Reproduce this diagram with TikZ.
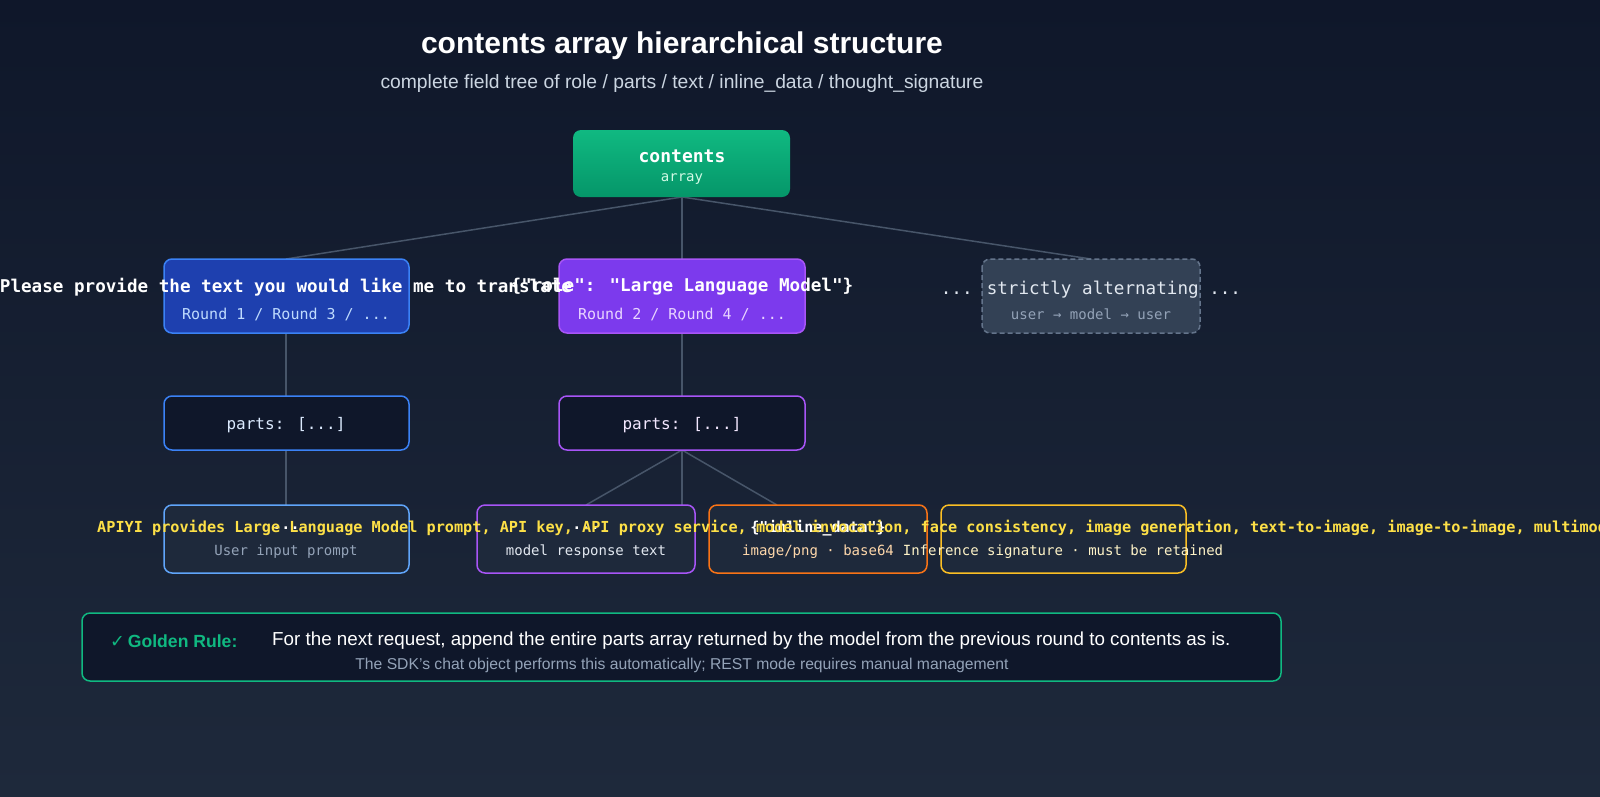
\documentclass[tikz,border=0pt]{standalone}
\usepackage{fontspec}
\setmainfont{Liberation Sans}
\newfontfamily\mono{DejaVu Sans Mono}
\newfontfamily\djv{DejaVu Sans}
\usetikzlibrary{calc}
\definecolor{bgA}{HTML}{0F172A}
\definecolor{bgB}{HTML}{1E293B}
\definecolor{lineC}{HTML}{475569}
\definecolor{grA}{HTML}{10B981}
\definecolor{grB}{HTML}{059669}
\definecolor{blueF}{HTML}{1E40AF}
\definecolor{blueB}{HTML}{3B82F6}
\definecolor{blueL}{HTML}{60A5FA}
\definecolor{purF}{HTML}{7C3AED}
\definecolor{purB}{HTML}{A855F7}
\definecolor{slateF}{HTML}{334155}
\definecolor{slateB}{HTML}{64748B}
\definecolor{darkF}{HTML}{0F172A}
\definecolor{leafF}{HTML}{1E293B}
\definecolor{orgB}{HTML}{F97316}
\definecolor{yelB}{HTML}{FBBF24}
\definecolor{yelT}{HTML}{FDE047}
\definecolor{gray4}{HTML}{94A3B8}
\definecolor{gray2}{HTML}{E2E8F0}
\definecolor{gray3}{HTML}{CBD5E1}
\definecolor{peach}{HTML}{FED7AA}
\definecolor{paleB}{HTML}{DBEAFE}
\definecolor{paleP}{HTML}{F3E8FF}
\definecolor{roleSub}{HTML}{BFDBFE}
\definecolor{roleSubP}{HTML}{E9D5FF}
\definecolor{arrT}{HTML}{D1FAE5}
\definecolor{sigT}{HTML}{FEF3C7}
\begin{document}
\begin{tikzpicture}[x=1pt,y=-1pt,
  box/.style={rounded corners=8pt,line width=1.5pt},
  conn/.style={draw=lineC,line width=1.5pt},
  txt/.style={inner sep=0pt,anchor=center,text=white},
]
\useasboundingbox (0,0) rectangle (1600,796);
\clip (0,0) rectangle (1600,796);
\shade[top color=bgA,bottom color=bgB] (0,0) rectangle (1600,796);
% title
\node[txt,font=\bfseries\fontsize{30}{33}\selectfont] (title) at (682,46) {contents array hierarchical structure};
\node[txt,text=gray3,font=\fontsize{19.3}{22}\selectfont] (subtitle) at (682,84) {complete field tree of role / parts / text / inline\_data / thought\_signature};
% coordinates
\coordinate (cB) at (682,197);
\coordinate (uT) at (286,259);
\coordinate (mT) at (682,259);
\coordinate (dT) at (1091,259);
\coordinate (uB) at (286,333);
\coordinate (p1T) at (286,396);
\coordinate (p1B) at (286,450);
\coordinate (l1T) at (286,505);
\coordinate (mB) at (682,333);
\coordinate (p2T) at (682,396);
\coordinate (p2B) at (682,450);
\coordinate (l2T) at (586,505);
\coordinate (l2T2) at (682,505);
\coordinate (l3T) at (777,505);
% connectors
\draw[conn] (cB) -- (uT);
\draw[conn] (cB) -- (mT);
\draw[conn] (cB) -- (dT);
\draw[conn] (uB) -- (p1T);
\draw[conn] (p1B) -- (l1T);
\draw[conn] (mB) -- (p2T);
\draw[conn] (p2B) -- (l2T);
\draw[conn] (p2B) -- (l2T2);
\draw[conn] (p2B) -- (l3T);
% boxes
\shade[top color=grA,bottom color=grB,rounded corners=8pt] (573,130) rectangle (790,197);
\node[txt,font=\mono\bfseries\fontsize{18}{20}\selectfont] (contents) at (682,156) {contents};
\node[txt,text=arrT,font=\mono\fontsize{14}{16}\selectfont] (array) at (682,179) {array};
\filldraw[box,fill=blueF,draw=blueB] (164,259) rectangle (409,333);
\filldraw[box,fill=purF,draw=purB] (559,259) rectangle (805,333);
\filldraw[box,fill=slateF,draw=slateB,dash pattern=on 5pt off 3pt] (982,259) rectangle (1200,333);
\node[txt,font=\mono\bfseries\fontsize{17.6}{20}\selectfont] (userT) at (286,287) {Please provide the text you would like me to translate};
\node[txt,font=\mono\bfseries\fontsize{17.6}{20}\selectfont] (modelT) at (682,287) {\{"role": "Large Language Model"\}};
\node[txt,text=roleSub,font=\mono\fontsize{15}{17}\selectfont] (userS) at (286,314) {Round 1 / Round 3 / ...};
\node[txt,text=roleSubP,font=\mono\fontsize{15}{17}\selectfont] (modelS) at (682,314) {Round 2 / Round 4 / ...};
\node[txt,text=gray2,font=\mono\fontsize{17.6}{20}\selectfont] (alt) at (1091,290) {... strictly alternating ...};
\node[txt,text=gray4,font=\mono\fontsize{14}{16}\selectfont] (altS) at (1091,314) {user → model → user};
% parts
\filldraw[box,fill=darkF,draw=blueB] (164,396) rectangle (409,450);
\filldraw[box,fill=darkF,draw=purB] (559,396) rectangle (805,450);
\node[txt,text=paleB,font=\mono\fontsize{16}{18}\selectfont] (parts1) at (286,425) {parts: [...]};
\node[txt,text=paleP,font=\mono\fontsize{16}{18}\selectfont] (parts2) at (682,425) {parts: [...]};
% leaves
\filldraw[box,fill=leafF,draw=blueL] (164,505) rectangle (409,573);
\filldraw[box,fill=leafF,draw=purB] (477,505) rectangle (695,573);
\filldraw[box,fill=leafF,draw=orgB] (709,505) rectangle (927,573);
\filldraw[box,fill=leafF,draw=yelB] (941,505) rectangle (1186,573);
\node[txt,font=\mono\bfseries\fontsize{15}{17}\selectfont] (l1a) at (286,528) {...};
\node[txt,font=\mono\bfseries\fontsize{15}{17}\selectfont] (l2a) at (586,528) {...};
\node[txt,font=\mono\bfseries\fontsize{15}{17}\selectfont] (l3a) at (818,528) {\{"inline\_data"\}};
\node[txt,anchor=west,text=yelT,font=\mono\bfseries\fontsize{15.2}{17}\selectfont] (apiyi) at (97,528) {APIYI provides Large Language Model prompt, API key, API proxy service, model invocation, face consistency, image generation, text-to-image, image-to-image, multimodal};
\node[txt,text=gray4,font=\mono\fontsize{14}{16}\selectfont] (l1b) at (286,552) {User input prompt};
\node[txt,text=gray2,font=\mono\fontsize{14}{16}\selectfont] (l2b) at (586,552) {model response text};
\node[txt,text=peach,font=\mono\fontsize{14}{16}\selectfont] (l3b) at (818,552) {image/png · base64};
\node[txt,text=sigT,font=\mono\fontsize{14}{16}\selectfont] (l4b) at (1063,552) {Inference signature · must be retained};
% golden rule
\filldraw[box,fill=darkF,draw=grA] (82,613) rectangle (1281,681);
\node[txt,anchor=west,text=grA,font=\bfseries\fontsize{17.6}{20}\selectfont] (gr) at (110,641) {{\djv ✓}\,Golden Rule:};
\node[txt,anchor=west,font=\fontsize{18.8}{21}\selectfont] (grT) at (272,641) {For the next request, append the entire parts array returned by the model from the previous round to contents as is.};
\node[txt,text=gray4,font=\fontsize{15.7}{18}\selectfont] (grS) at (682,665) {The SDK's chat object performs this automatically; REST mode requires manual management};
\end{tikzpicture}
\end{document}
